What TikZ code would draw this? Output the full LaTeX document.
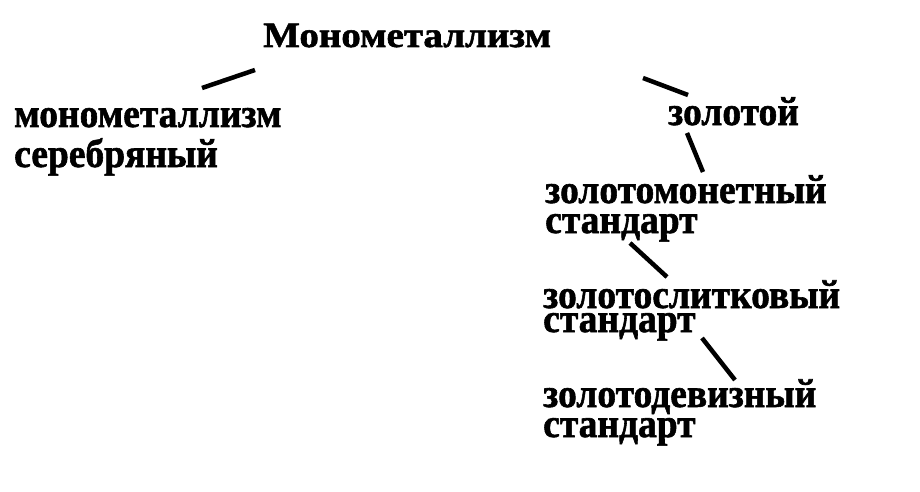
\documentclass[tikz,border=0pt]{standalone}
\usepackage{fontspec}
\setmainfont{Liberation Serif}[BoldFeatures={FakeBold=1.5}]
\usetikzlibrary{positioning}

\tikzset{
  head/.style={anchor=base west, inner sep=0pt, font=\fontsize{33}{36}\selectfont\bfseries},
  term/.style={anchor=base west, inner sep=0pt, align=left, font=\fontsize{31}{30}\selectfont\bfseries},
  link/.style={line width=4.5pt}
}
\newcommand{\wideword}[1]{\scalebox{1.18}[1.08]{#1}}
\newcommand{\tallword}[1]{\scalebox{1.21}[1.3]{#1}}

\begin{document}
\begin{tikzpicture}[x=1pt, y=-1pt]
        \useasboundingbox[fill=white] (0,0) rectangle (920,492);

        % base is the baseline of the last line
        \node[head] at (263, 47)(mm){\wideword{Монометаллизм}};
        \node[term] at (14, 167)(silv){\tallword{монометаллизм}\\[10pt]\tallword{серебряный}};
        \node[term] at (668, 125)(gold){\tallword{золотой}};
        \node[term] at (545, 233)(coin){\tallword{золотомонетный}\\\tallword{стандарт}};
        \node[term] at (543, 332)(bull){\tallword{золотослитковый}\\[-6pt]\tallword{стандарт}};
        \node[term] at (543, 437)(exch){\tallword{золотодевизный}\\\tallword{стандарт}};

        \coordinate (a1) at (255, 70);  \coordinate (b1) at (202, 88);
        \coordinate (a2) at (643, 78);  \coordinate (b2) at (688, 95);
        \coordinate (a3) at (687, 133); \coordinate (b3) at (703, 172);
        \coordinate (a4) at (630, 243); \coordinate (b4) at (667, 277);
        \coordinate (a5) at (702, 338); \coordinate (b5) at (735, 380);

        \path[link]
        (a1) edge (b1)
        (a2) edge (b2)
        (a3) edge (b3)
        (a4) edge (b4)
        (a5) edge (b5)
        ;
    \end{tikzpicture}
\end{document}
